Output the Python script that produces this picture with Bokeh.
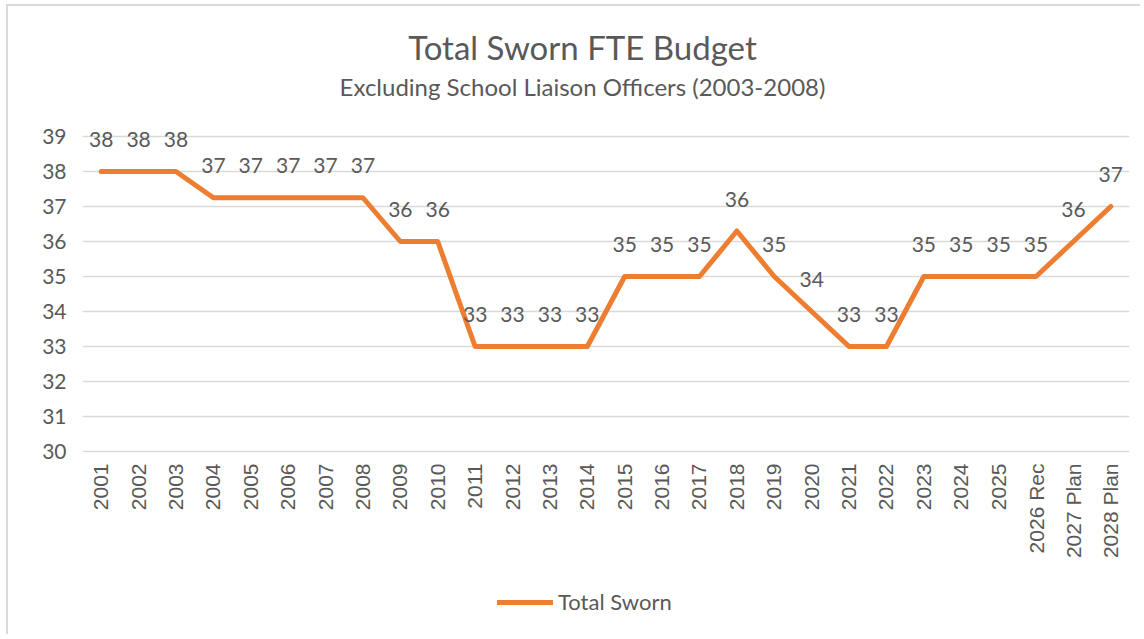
import math
from bokeh.plotting import figure
from bokeh.models import (FactorRange, Range1d, FixedTicker, Label, Legend,
                          LegendItem, ColumnDataSource)
from bokeh.core.properties import value
from bokeh.embed import file_html
from bokeh.resources import INLINE

# ---- data ----
categories = ["2001", "2002", "2003", "2004", "2005", "2006", "2007", "2008",
              "2009", "2010", "2011", "2012", "2013", "2014", "2015", "2016",
              "2017", "2018", "2019", "2020", "2021", "2022", "2023", "2024",
              "2025", "2026 Rec", "2027 Plan", "2028 Plan"]
total_sworn = [38, 38, 38, 37.25, 37.25, 37.25, 37.25, 37.25,
               36, 36, 33, 33, 33, 33, 35, 35,
               35, 36.3, 35, 34, 33, 33, 35, 35,
               35, 35, 36, 37]
y_ticks = [30, 31, 32, 33, 34, 35, 36, 37, 38, 39]
title_text = "Total Sworn FTE Budget"
subtitle_text = "Excluding School Liaison Officers (2003-2008)"
series_name = "Total Sworn"

labels = [str(int(round(v))) for v in total_sworn]
src = ColumnDataSource(dict(cat=categories, val=total_sworn, lab=labels))
axis_src = ColumnDataSource(dict(cat=categories,
                                 base=[min(y_ticks)] * len(categories)))

TXT = "#595959"
ORANGE = "#ED7D31"
GRID = "#D9D9D9"
FONT = "Lato"

PX_PER_UNIT = 35.0
H = 630
FRAME_TOP_PAD = 130      # px between frame top and the top gridline
FRAME_BOTTOM_PAD = 185   # px between lowest gridline and frame bottom
y_lo = min(y_ticks) - FRAME_BOTTOM_PAD / PX_PER_UNIT
y_hi = max(y_ticks) + FRAME_TOP_PAD / PX_PER_UNIT

p = figure(width=1134, height=H, output_backend="svg", toolbar_location=None,
           x_range=FactorRange(*categories), y_range=Range1d(y_lo, y_hi),
           min_border_left=74, min_border_right=13, min_border_top=0,
           min_border_bottom=0, background_fill_color="white",
           border_fill_color="white",
           styles={"margin-left": "6px", "margin-top": "4px",
                   "border-top": "2px solid #D9D9D9",
                   "border-left": "2px solid #D9D9D9"})
p.outline_line_color = None

line = p.line(x="cat", y="val", source=src, line_color=ORANGE, line_width=5,
              line_join="round", line_cap="round")

# data labels
p.text(x="cat", y="val", text="lab", source=src, y_offset=-32,
       text_align="center", text_baseline="middle",
       text_font=value(FONT), text_font_size="21px", text_color=TXT)

# category labels under the lowest gridline
p.text(x="cat", y="base", text="cat", source=axis_src, y_offset=12,
       angle=math.pi / 2, text_align="right", text_baseline="middle",
       text_font=value("Liberation Sans"), text_font_size="21px",
       text_color=TXT)

# axes
p.xaxis.visible = False
p.yaxis.ticker = FixedTicker(ticks=y_ticks)
p.yaxis.axis_line_color = None
p.yaxis.major_tick_line_color = None
p.yaxis.minor_tick_line_color = None
p.yaxis.major_label_text_font = FONT
p.yaxis.major_label_text_font_size = "21px"
p.yaxis.major_label_text_color = TXT
p.yaxis.major_label_standoff = 10

p.xgrid.grid_line_color = None
p.ygrid.grid_line_color = GRID
p.ygrid.grid_line_width = 1.5

# titles (screen units relative to the frame's bottom-left corner)
p.add_layout(Label(x=500, y=590, x_units="screen", y_units="screen",
                   text=title_text, text_align="center", text_baseline="middle",
                   text_font=FONT, text_font_size="33px", text_color=TXT))
p.add_layout(Label(x=500, y=550, x_units="screen", y_units="screen",
                   text=subtitle_text, text_align="center", text_baseline="middle",
                   text_font=FONT, text_font_size="24px", text_color=TXT))

legend = Legend(items=[LegendItem(label=series_name, renderers=[line])],
                location=(415, 21), orientation="horizontal",
                glyph_width=56, glyph_height=20, label_standoff=5,
                padding=0, margin=0, border_line_color=None,
                background_fill_alpha=0, label_text_font=FONT,
                label_text_font_size="22px", label_text_color=TXT)
p.add_layout(legend, "center")

open("out.html", "w").write(file_html(p, INLINE))
